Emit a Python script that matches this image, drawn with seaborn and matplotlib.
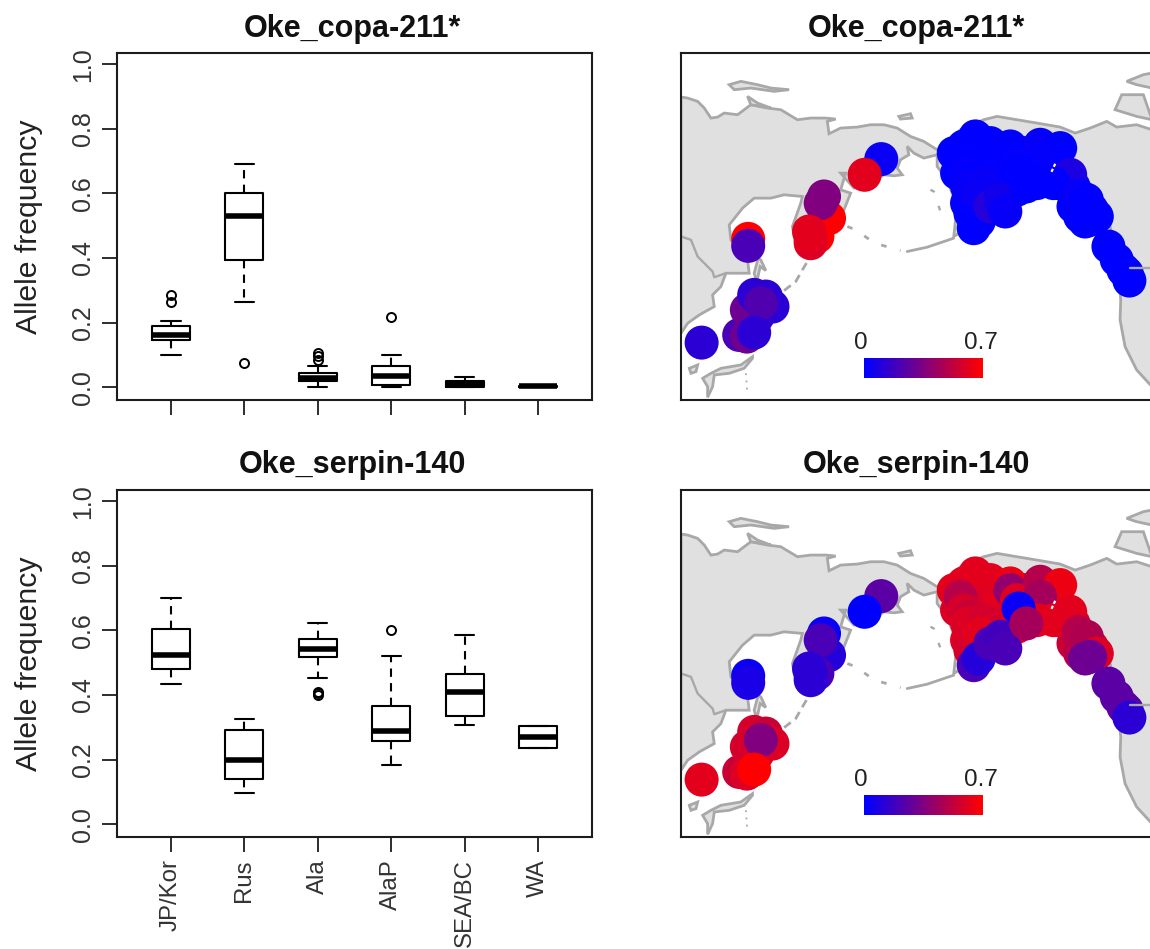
import numpy as np
import pandas as pd
import matplotlib
matplotlib.use("Agg")
import matplotlib.pyplot as plt
import seaborn as sns

regions = ["JP/Kor", "Rus", "Ala", "AlaP", "SEA/BC", "WA"]

# allele frequencies per region, sorted so the quartiles land where the boxes are
copa_jp = [.10, .12, .135, .145, .15, .155, .16, .17, .18, .19, .205, .265, .285]
copa_rus = [.075, .265, .395, .47, .53, .56, .60, .65, .69]
copa_ala = [0, .005, .01, .015, .018, .02, .024, .026, .028, .03, .034, .04, .043, .065, .085, .095, .105]
copa_alap = [0, .002, .005, .02, .035, .05, .065, .10, .217]
copa_sea = [0, 0, 0, .005, .01, .015, .02, .025, .03]
copa_wa = [0, 0, .001, .001, .002, .002, .003, .003, .004]

serpin_jp = [.435, .46, .48, .50, .525, .56, .605, .65, .70]
serpin_rus = [.095, .12, .14, .17, .20, .25, .29, .31, .325]
serpin_ala = [.40, .405, .41, .452, .517, .52, .53, .54, .543, .55, .56, .565, .572, .58, .59, .61, .622]
serpin_alap = [.182, .22, .257, .27, .287, .32, .365, .52, .60]
serpin_sea = [.306, .32, .335, .37, .408, .44, .465, .52, .585]
serpin_wa = [.235, .235, .235, .25, .27, .29, .305, .305, .305]

# sampling sites on the map, x/y in map units
site_x = [92, 255, 285, 240, 260, 205, 228, 228, 250, 285, 305, 270, 250, 232, 232,
          475, 460, 450, 440, 420, 420, 415, 632, 582,
          880, 915, 960, 960, 920, 990, 985, 1060, 1060, 1010, 1060, 1080, 1130, 1120, 1165, 1210, 1230, 1210, 1240, 1230, 1265, 1340, 1360, 860, 890, 930, 900, 960, 1000, 1040,
          850, 915, 870, 880, 900, 890, 940, 930, 1020, 1020, 1040, 1110, 1170, 1110,
          1200, 1100, 1150, 1225, 1250, 1280, 1245, 1260, 1315, 1370, 1378,
          910, 925, 960, 990, 1005, 1045, 1068]
site_y = [908, 800, 800, 840, 830, 885, 890, 810, 765, 770, 800, 790, 878, 597, 618,
          535, 470, 490, 590, 610, 590, 575, 358, 405,
          320, 330, 310, 350, 380, 360, 400, 340, 380, 430, 420, 380, 370, 410, 430, 440, 480, 500, 510, 530, 510, 660, 690, 400, 490, 500, 520, 450, 450, 450,
          340, 290, 360, 400, 420, 440, 430, 470, 320, 340, 370, 315, 325, 360,
          405, 430, 430, 465, 480, 530, 545, 540, 620, 700, 722,
          565, 545, 500, 480, 515, 395, 440]
site_copa = [.12, .12, .12, .2, .15, .2, .3, .3, .12, .12, .12, .22, .12, .7, .2,
             .7, .35, .35, .7, .6, .62, .62, .03, .62,
             0, 0, 0, 0, 0, 0, .01, 0, 0, .01, 0, 0, .01, 0, 0, .02, 0, 0, 0, 0, 0, 0, 0, 0, .01, .02, 0, .02, .01, .02,
             0, 0, 0, .01, 0, .02, .02, .03, 0, 0, .01, .02, 0, .01,
             .08, 0, 0, .02, 0, 0, 0, 0, 0, 0, 0,
             0, 0, .1, .05, .02, 0, 0]
site_serpin = [.62, .6, .6, .58, .6, .55, .6, .58, .58, .55, .6, .35, .7, .03, .07,
               .1, .03, .2, .2, .12, .12, .12, .25, 0,
               .62, .62, .62, .62, .6, .62, .62, .62, .62, .6, .62, .6, .55, .62, .62, .62, .55, .55, .5, .5, .55, .25, .25, .6, .6, .6, .58, .62, .6, .62,
               .62, .62, .5, .58, .55, .6, .58, .62, .65, .4, .6, .5, .65, .45,
               .62, .62, .62, .5, .48, .6, .3, .3, .25, .25, .12,
               .2, .1, .2, .18, .2, .03, .45]

# land outline in map units
land_x = [30, 50, 80, 100, 120, 140, 160, 200, 240, 290, 330, 380, 420, 465, 495, 470, 475, 510, 560, 600, 640, 680, 720, 760, 800,
          870, 940, 980, 1040, 1100, 1170, 1215, 1260, 1310, 1340, 1400, 1446,
          1446, 1400, 1365, 1350, 1352, 1345, 1340, 1320, 1290, 1240, 1200, 1150, 1060, 960, 900, 850, 860, 830, 800, 800, 760, 730, 710,
          715, 690, 680, 695, 670, 640, 590, 550, 510, 525, 510, 540, 520, 490, 440, 410, 375, 365, 390, 395, 340, 300, 250, 215, 175, 180,
          230, 235, 200, 165, 150, 125, 130, 85, 50, 30]
land_y = [172, 175, 185, 205, 235, 232, 220, 225, 195, 205, 210, 240, 235, 235, 238, 245, 282, 265, 262, 255, 255, 265, 290, 305, 330,
          270, 240, 230, 240, 250, 262, 280, 265, 245, 262, 255, 270,
          1040, 990, 920, 840, 780, 700, 640, 560, 480, 420, 400, 460, 480, 490, 560, 590, 500, 420, 380, 345, 355, 340, 320,
          345, 360, 385, 405, 408, 405, 440, 445, 400, 400, 450, 460, 510, 570, 630, 655, 620, 560, 490, 470, 465, 475, 475, 505, 555, 600,
          660, 700, 700, 700, 740, 765, 800, 825, 850, 880]
japan_x = [245, 210, 150, 120, 95, 110, 110, 125, 130, 175, 220, 245]
japan_y = [950, 975, 985, 1000, 1015, 1040, 1072, 1040, 1005, 1000, 985, 955]
north_isl_x = [175, 210, 260, 300, 355, 310, 240, 190]
north_isl_y = [135, 125, 135, 145, 150, 155, 145, 150]
north_isl2_x = [230, 260, 300, 240]
north_isl2_y = [170, 190, 205, 195]
wrangel_x = [685, 720, 725, 690]
wrangel_y = [230, 222, 235, 238]
arctic_x = [1370, 1420, 1446, 1446, 1400]
arctic_y = [125, 105, 100, 145, 135]
arctic2_x = [1335, 1355, 1420, 1446, 1400]
arctic2_y = [210, 165, 165, 240, 230]
kyushu_x = [55, 80, 75, 60]
kyushu_y = [985, 975, 995, 1000]
sakhalin_x = [262, 250, 258, 268, 285, 270]
sakhalin_y = [655, 700, 725, 680, 692, 660]

border_x = [30, 60, 80, 125, 130, 165]
border_y = [590, 600, 650, 695, 712, 700]
border2_x = [1380, 1446]
border2_y = [685, 685]
kuril_x = [340, 375, 395, 410]
kuril_y = [752, 725, 690, 665]
aleut_west_x = [530, 555, 605, 630, 655, 690]
aleut_west_y = [560, 570, 605, 615, 622, 632]
aleut_east_x = [710, 770, 850]
aleut_east_y = [635, 622, 595]
izu_x = [225, 230]
izu_y = [1000, 1065]
kodiak_x = [780, 790, 810, 825]
kodiak_y = [450, 455, 515, 530]
inlet_x = [1155, 1143]
inlet_y = [372, 398]

W, H = 1150, 949
LAND = "#e0e0e0"
COAST = "#a8a8a8"
INK = "#1c1c1c"

sns.set_style("ticks")
plt.rcParams["font.family"] = ["Liberation Sans", "DejaVu Sans"]
plt.rcParams["axes.linewidth"] = 1.5
plt.rcParams["axes.edgecolor"] = INK

red_blue = sns.blend_palette(["#0000ff", "#ff0000"], as_cmap=True)


def px(left, top, right, bottom):
    return [left / W, 1 - bottom / H, (right - left) / W, (bottom - top) / H]


def box_panel(ax, groups, show_labels):
    df = pd.DataFrame({
        "region": [r for r, g in zip(regions, groups) for _ in g],
        "freq": [v for g in groups for v in g],
    })
    sns.boxplot(data=df, x="region", y="freq", order=regions, ax=ax, fill=False, color="black",
                width=0.52, linecolor="black", linewidth=1.5, fliersize=6.5, whis=1.5,
                whiskerprops=dict(linestyle=(0, (4, 3))),
                medianprops=dict(linewidth=4),
                flierprops=dict(marker="o", markerfacecolor="none", markeredgewidth=1.4))
    ax.set_xlim(-0.735, 5.735)
    ax.set_ylim(-0.04, 1.035)
    ax.set_yticks([0, .2, .4, .6, .8, 1.0])
    ax.set_yticklabels(["0.0", "0.2", "0.4", "0.6", "0.8", "1.0"], rotation=90, va="center", fontsize=18, color="#333333")
    ax.set_xlabel("")
    ax.set_ylabel("Allele frequency", fontsize=21.8, color="#222222", labelpad=20)
    ax.tick_params(length=11, width=1.3, color=INK, pad=5)
    ax.set_xticks(range(6))
    if show_labels:
        ax.set_xticklabels(regions, rotation=90, fontsize=17.3, color="#333333")
    else:
        ax.set_xticklabels([])


def map_panel(ax, values):
    for x, y in [(land_x, land_y), (japan_x, japan_y), (north_isl_x, north_isl_y), (north_isl2_x, north_isl2_y),
                 (wrangel_x, wrangel_y), (arctic_x, arctic_y), (arctic2_x, arctic2_y), (kyushu_x, kyushu_y),
                 (sakhalin_x, sakhalin_y)]:
        ax.fill(x, y, facecolor=LAND, edgecolor=COAST, linewidth=2)
    ax.plot(border_x, border_y, color=COAST, lw=1.7)
    ax.plot(border2_x, border2_y, color=COAST, lw=1.7)
    ax.plot(kuril_x, kuril_y, color=COAST, lw=2, ls=(0, (3, 2)))
    ax.plot(aleut_west_x, aleut_west_y, color=COAST, lw=2, ls=(0, (2, 5)))
    ax.plot(aleut_east_x, aleut_east_y, color=COAST, lw=2)
    ax.plot(izu_x, izu_y, color=COAST, lw=1.3, ls=(0, (1, 3)))
    ax.plot(kodiak_x, kodiak_y, color=COAST, lw=1.7, ls=(0, (2, 6)))
    sns.scatterplot(x=site_x, y=site_y, hue=values, hue_norm=(0, .7), palette=red_blue,
                    s=600, linewidth=0, legend=False, ax=ax)
    ax.plot(inlet_x, inlet_y, color="white", lw=1.6, ls=(0, (1.5, 1)), zorder=4)
    ax.set_xlim(30, 1446)
    ax.set_ylim(1080, 40)
    ax.set_xticks([])
    ax.set_yticks([])
    ax.set_xlabel("")
    ax.set_ylabel("")


fig = plt.figure(figsize=(W / 100, H / 100), dpi=100)

ax1 = fig.add_axes(px(117, 53, 592, 400))
ax2 = fig.add_axes(px(117, 490, 592, 837))
ax3 = fig.add_axes(px(681, 53, 1152, 400))
ax4 = fig.add_axes(px(681, 490, 1152, 837))

box_panel(ax1, [copa_jp, copa_rus, copa_ala, copa_alap, copa_sea, copa_wa], False)
box_panel(ax2, [serpin_jp, serpin_rus, serpin_ala, serpin_alap, serpin_sea, serpin_wa], True)
map_panel(ax3, site_copa)
map_panel(ax4, site_serpin)

titles = ["Oke_copa-211*", "Oke_serpin-140"]
for title, y in zip(titles, [29, 465]):
    fig.text(352 / W, 1 - y / H, title, ha="center", va="center", fontsize=22, fontweight="bold", color="#111111")
    fig.text(916 / W, 1 - y / H, title, ha="center", va="center", fontsize=22, fontweight="bold", color="#111111")

# colour key inside each map
ramp = np.linspace(0, .7, 60).reshape(1, -1)
for top in [358, 795]:
    key = fig.add_axes(px(864, top, 983, top + 20))
    sns.heatmap(ramp, cmap=red_blue, vmin=0, vmax=.7, cbar=False, xticklabels=False, yticklabels=False, ax=key)
    fig.text(861 / W, 1 - (top - 15) / H, "0", ha="center", va="center", fontsize=17.5, color="#222222")
    fig.text(981 / W, 1 - (top - 15) / H, "0.7", ha="center", va="center", fontsize=17.5, color="#222222")

fig.savefig("out.png", dpi=100)
